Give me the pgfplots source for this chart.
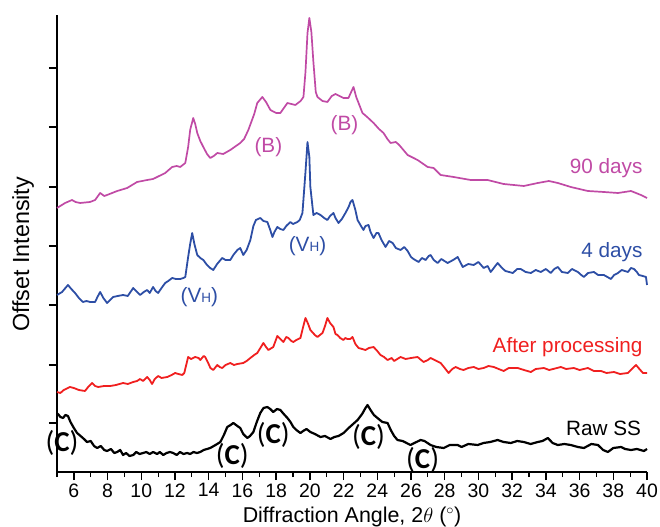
\documentclass[border=0pt]{standalone}
\usepackage{fontspec}
\setmainfont{Liberation Sans}
\newfontfamily\carlito{Carlito}
\usepackage{pgfplots}
\pgfplotsset{compat=1.18}
\definecolor{cmag}{RGB}{192,74,165}
\definecolor{cblue}{RGB}{45,78,165}
\definecolor{cred}{RGB}{240,31,31}
\newcommand{\ann}{\fontsize{20.8}{23}\selectfont}
\newcommand{\clab}{\carlito\fontsize{29}{30}\selectfont(\textbf{C})}
\newcommand{\vh}{(V{\fontsize{13.5}{14}\selectfont H})}
\begin{document}
\begin{tikzpicture}
\useasboundingbox (0,0) rectangle (660bp,527bp);
\begin{axis}[
 at={(57bp,55bp)}, anchor=south west,
 scale only axis, width=590bp, height=457bp,
 xmin=5, xmax=40, ymin=0, ymax=457,
 axis x line*=bottom, axis y line*=left,
 axis line style={line width=1.6bp},
 xtick={6,8,...,40}, minor xtick={5,7,...,39},
 ytick={49,107,167,226,285,345,404}, yticklabels={},
 tick align=outside,
 major tick length=8bp, minor tick length=5bp,
 every tick/.style={line width=1.4bp, black},
 every minor tick/.style={line width=1.2bp, black},
 ticklabel style={font=\fontsize{19.5}{22}\selectfont},
 /pgf/number format/assume math mode=true,
 xlabel={Diffraction Angle, 2$\theta$ ($^{\circ}$)},
 ylabel={Offset Intensity},
 xlabel style={at={(axis description cs:0.5,-0.098)}, anchor=center, font=\fontsize{21.5}{24}\selectfont},
 ylabel style={at={(axis description cs:-0.0576,0.476)}, anchor=center, font=\fontsize{23.4}{26}\selectfont},
 clip=false,
 every axis plot/.append style={line join=round, mark=none},
]
% Raw SS
\addplot[black, line width=2.2bp] coordinates {
(5.00,57)(5.06,58)(5.20,55)(5.36,54)(5.50,57)(5.65,56)(5.80,50)(6.00,44)(6.19,39)(6.40,36)(6.60,33)(6.78,30)(7.00,31)(7.20,26)(7.38,24)(7.60,26)(7.80,22)(7.97,21)(8.20,23)(8.40,19)(8.57,20)(8.75,22)(8.92,17)(9.10,19)(9.30,16)(9.52,17)(9.70,20)(9.90,18)(10.11,19)(10.30,20)(10.50,18)(10.70,20)(10.94,18)(11.10,20)(11.30,17)(11.50,19)(11.70,20)(11.89,19)(12.10,17)(12.30,20)(12.50,18)(12.72,19)(12.90,18)(13.10,20)(13.30,19)(13.50,20)(13.70,22)(13.90,23)(14.09,24)(14.30,26)(14.50,28)(14.69,30)(14.90,37)(15.10,45)(15.30,47)(15.46,49)(15.70,46)(15.87,44)(16.05,38)(16.29,34)(16.45,36)(16.65,40)(16.85,50)(17.06,59)(17.25,64)(17.48,65)(17.65,63)(17.83,60)(18.05,63)(18.25,62)(18.45,58)(18.67,54)(18.85,50)(19.02,45)(19.20,42)(19.44,39)(19.60,41)(19.80,43)(20.03,40)(20.30,38)(20.63,35)(20.90,36)(21.22,33)(21.45,35)(21.70,36)(22.00,39)(22.30,44)(22.50,47)(22.83,52)(23.10,58)(23.30,64)(23.42,67)(23.60,62)(23.80,57)(24.01,54)(24.30,50)(24.61,49)(24.80,42)(25.00,36)(25.20,32)(25.50,31)(25.97,27)(26.20,29)(26.57,32)(26.80,31)(27.16,27)(27.50,25)(27.94,24)(28.30,27)(28.77,27)(29.00,25)(29.40,28)(29.96,27)(30.30,29)(30.70,30)(31.14,32)(31.50,30)(31.92,29)(32.30,31)(32.69,30)(33.10,28)(33.52,30)(33.80,31)(34.12,34)(34.40,29)(34.71,27)(35.10,28)(35.48,27)(35.90,25)(36.26,24)(36.70,28)(37.09,27)(37.40,22)(37.68,20)(38.00,24)(38.46,25)(38.70,23)(39.05,22)(39.40,23)(39.82,21)(40.00,23)
};
% After processing
\addplot[cred, line width=1.8bp] coordinates {
(5.00,80)(5.20,79)(5.40,82)(5.77,85)(6.00,84)(6.30,82)(6.66,81)(6.85,85)(7.08,89)(7.26,86)(7.44,85)(7.80,86)(8.15,86)(8.50,87)(8.92,89)(9.20,88)(9.52,90)(9.75,91)(9.93,93)(10.10,91)(10.35,95)(10.50,92)(10.64,88)(10.80,93)(11.00,96)(11.20,94)(11.54,95)(11.80,97)(12.01,99)(12.20,98)(12.43,97)(12.55,99)(12.78,115)(12.95,113)(13.20,115)(13.40,114)(13.50,112)(13.70,116)(13.79,115)(13.97,109)(14.10,104)(14.27,102)(14.51,107)(14.65,105)(14.80,104)(15.00,107)(15.28,109)(15.50,107)(15.70,108)(16.05,109)(16.25,111)(16.47,114)(16.70,117)(16.88,119)(17.10,125)(17.24,129)(17.40,125)(17.54,122)(17.83,125)(18.07,136)(18.25,133)(18.43,130)(18.60,135)(18.73,134)(18.90,131)(19.02,130)(19.20,132)(19.44,134)(19.60,145)(19.74,154)(19.90,148)(20.03,142)(20.30,137)(20.45,135)(20.75,139)(20.90,146)(21.04,154)(21.20,149)(21.40,145)(21.52,138)(21.64,137)(21.80,134)(21.99,132)(22.10,134)(22.23,133)(22.40,133)(22.53,135)(22.70,128)(22.89,124)(23.10,123)(23.30,122)(23.50,124)(23.78,125)(24.00,121)(24.19,117)(24.40,115)(24.61,112)(24.85,114)(25.00,111)(25.38,115)(25.68,113)(26.00,114)(26.39,115)(26.60,112)(26.75,110)(27.00,112)(27.16,114)(27.40,112)(27.76,109)(28.00,104)(28.23,99)(28.45,103)(28.65,105)(28.90,103)(29.12,102)(29.40,104)(29.72,105)(30.00,103)(30.31,104)(30.60,106)(30.91,105)(31.20,103)(31.50,101)(31.80,104)(32.33,104)(32.70,102)(33.11,100)(33.40,103)(33.88,104)(34.20,102)(34.89,105)(35.20,103)(35.66,104)(36.00,102)(36.49,104)(36.85,101)(37.27,101)(37.60,99)(38.04,100)(38.40,98)(38.87,99)(39.10,103)(39.35,107)(39.55,103)(39.76,99)(40.00,99)
};
% 4 days
\addplot[cblue, line width=1.8bp] coordinates {
(5.00,177)(5.30,180)(5.50,184)(5.65,187)(5.85,183)(6.07,179)(6.30,174)(6.54,170)(6.75,171)(6.96,170)(7.26,170)(7.40,175)(7.56,180)(7.75,174)(7.97,169)(8.15,172)(8.33,175)(8.60,176)(8.92,177)(9.20,176)(9.52,184)(9.75,180)(9.93,177)(10.15,180)(10.35,182)(10.50,179)(10.70,185)(10.85,181)(11.00,179)(11.20,184)(11.42,189)(11.60,191)(11.83,194)(12.05,193)(12.31,193)(12.50,194)(12.61,195)(12.78,215)(12.90,228)(13.02,239)(13.15,228)(13.32,217)(13.50,214)(13.68,212)(13.90,207)(14.09,204)(14.27,202)(14.50,208)(14.80,214)(15.00,212)(15.28,212)(15.46,217)(15.70,222)(15.87,224)(16.05,217)(16.25,222)(16.47,232)(16.65,246)(16.80,252)(17.06,254)(17.25,251)(17.48,250)(17.65,242)(17.78,235)(17.90,240)(18.07,245)(18.25,243)(18.43,242)(18.60,246)(18.84,250)(19.00,248)(19.26,250)(19.40,252)(19.56,259)(19.74,300)(19.86,330)(19.97,315)(20.03,285)(20.21,257)(20.40,259)(20.63,257)(20.85,254)(21.04,252)(21.20,256)(21.40,259)(21.52,254)(21.70,249)(21.90,253)(22.11,259)(22.30,265)(22.41,270)(22.53,272)(22.70,262)(22.83,252)(23.00,247)(23.18,242)(23.30,246)(23.48,247)(23.60,240)(23.78,234)(23.95,239)(24.07,239)(24.25,232)(24.49,225)(24.70,231)(24.91,229)(25.10,224)(25.38,222)(25.60,225)(25.80,221)(26.00,215)(26.15,213)(26.45,210)(26.65,214)(26.87,212)(27.05,216)(27.16,217)(27.35,212)(27.58,209)(27.80,213)(28.17,209)(28.50,212)(28.77,215)(28.95,209)(29.07,205)(29.40,208)(29.72,207)(30.00,210)(30.31,204)(30.55,206)(30.73,200)(31.00,206)(31.14,209)(31.40,204)(31.60,201)(32.04,199)(32.30,203)(32.51,203)(32.80,200)(33.11,199)(33.40,202)(33.70,200)(34.00,203)(34.29,199)(34.50,203)(34.71,205)(34.95,200)(35.30,199)(35.55,203)(35.90,200)(36.10,197)(36.26,195)(36.50,199)(36.85,200)(37.10,197)(37.44,197)(37.65,195)(37.86,193)(38.05,197)(38.28,199)(38.50,202)(38.87,200)(39.05,204)(39.23,203)(39.40,200)(39.52,197)(39.75,196)(39.94,195)(40.00,187)
};
% 90 days
\addplot[cmag, line width=1.7bp] coordinates {
(5.00,264)(5.48,269)(5.89,272)(6.10,270)(6.37,269)(6.96,270)(7.26,272)(7.56,279)(7.80,276)(7.97,277)(8.57,281)(9.16,284)(9.75,290)(10.35,292)(10.70,293)(10.94,295)(11.42,299)(11.83,305)(12.10,306)(12.31,305)(12.61,309)(12.78,325)(12.90,342)(13.08,354)(13.20,348)(13.32,339)(13.50,331)(13.68,325)(13.90,318)(14.09,314)(14.30,316)(14.51,319)(14.86,318)(15.28,322)(15.87,329)(16.10,333)(16.35,342)(16.70,358)(16.88,369)(17.18,375)(17.40,370)(17.66,362)(18.00,359)(18.25,359)(18.50,365)(18.67,369)(19.14,367)(19.45,371)(19.62,375)(19.74,400)(19.86,439)(19.97,454)(20.09,440)(20.21,410)(20.35,380)(20.45,375)(20.75,371)(21.04,370)(21.30,376)(21.52,378)(21.99,374)(22.29,374)(22.45,380)(22.59,385)(22.75,375)(22.89,369)(23.12,359)(23.40,355)(23.78,349)(24.10,343)(24.37,339)(24.60,333)(24.79,329)(25.10,330)(25.30,327)(25.80,317)(26.39,312)(26.99,305)(27.34,304)(27.76,297)(28.53,295)(29.54,292)(30.55,292)(31.50,288)(32.69,286)(33.52,289)(34.18,291)(34.71,289)(35.48,285)(36.49,281)(37.44,280)(38.28,279)(39.05,281)(39.64,277)(40.00,274)
};
% labels
\node[anchor=east, text=black, font=\ann] at (axis cs:39.85,44) {Raw SS};
\node[anchor=east, text=cred, font=\ann] at (axis cs:39.94,125) {After processing};
\node[anchor=east, text=cblue, font=\ann] at (axis cs:39.94,220) {4 days};
\node[anchor=east, text=cmag, font=\ann] at (axis cs:39.94,304) {90 days};
\node[text=black] at (axis cs:5.30,29) {\clab};
\node[text=black] at (axis cs:15.40,16) {\clab};
\node[text=black] at (axis cs:17.83,37) {\clab};
\node[text=black] at (axis cs:23.48,35) {\clab};
\node[text=black] at (axis cs:26.69,12) {\clab};
\node[text=cblue, font=\ann] at (axis cs:13.44,175) {\vh};
\node[text=cblue, font=\ann] at (axis cs:19.86,226) {\vh};
\node[text=cmag, font=\ann] at (axis cs:17.54,325) {(B)};
\node[text=cmag, font=\ann] at (axis cs:22.05,347) {(B)};
\end{axis}
\end{tikzpicture}
\end{document}
